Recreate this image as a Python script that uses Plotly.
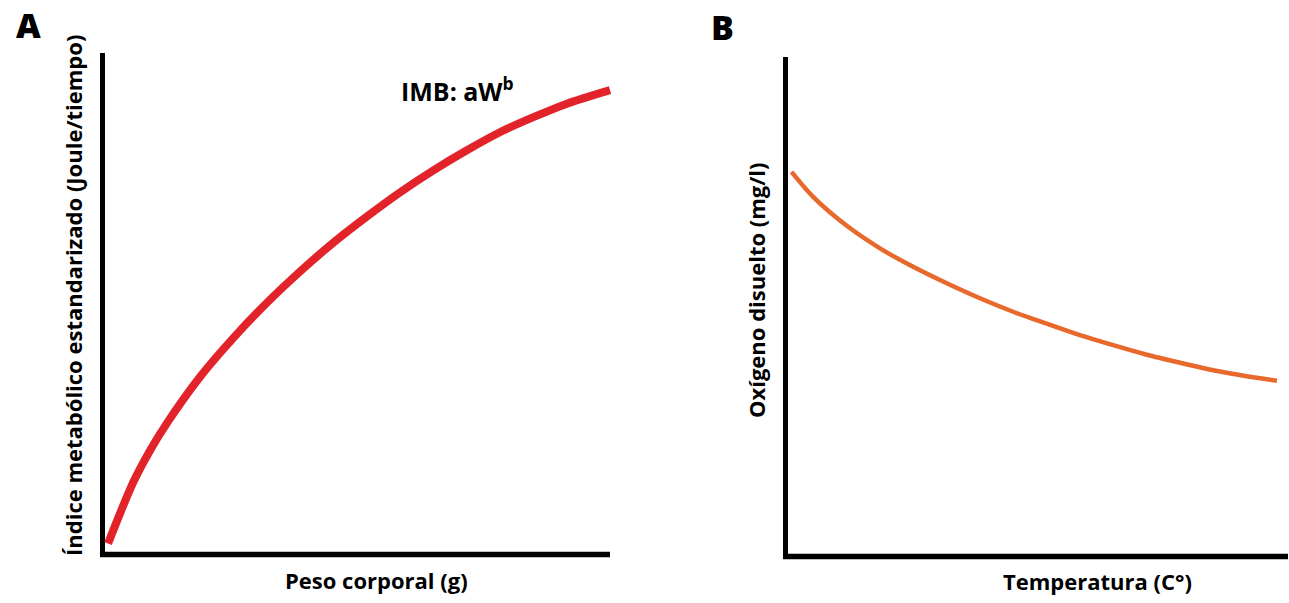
import plotly.graph_objects as go

# ---- Data (relative units 0-100) ----
peso_corporal = [1.1, 3.5, 6.1, 9.4, 12.7, 19.2, 25.8, 32.4, 38.9, 45.5, 52.1, 58.6,
                 65.2, 71.8, 78.3, 84.9, 91.5, 100.0]
indice_metabolico = [2.2, 8.3, 14.5, 20.8, 26.2, 35.4, 43.2, 50.2, 56.4, 62.2, 67.4, 72.2,
                     76.6, 80.6, 84.2, 87.2, 89.9, 92.6]

temperatura = [1.2, 5.5, 12.2, 18.8, 25.4, 32.1, 38.7, 45.3, 52.0, 58.6,
               65.2, 71.9, 78.5, 85.1, 91.8, 97.8]
oxigeno = [77.0, 72.0, 66.2, 61.7, 58.0, 54.7, 51.7, 49.0, 46.6, 44.3,
           42.3, 40.4, 38.8, 37.3, 36.1, 35.2]

# body margin is removed by post_script, so the figure fills the window
OX, OY = 0, 0
FW, FH = 1289, 603
FONT = "Open Sans"

def px2paper_x(px):
    return (px - OX) / FW

def px2paper_y(py):
    return 1 - (py - OY) / FH

fig = go.Figure()

fig.add_trace(go.Scatter(x=peso_corporal, y=indice_metabolico, mode="lines",
                         line=dict(color="#e2232a", width=8, shape="spline", smoothing=0.8),
                         xaxis="x", yaxis="y", showlegend=False, hoverinfo="skip"))
fig.add_trace(go.Scatter(x=temperatura, y=oxigeno, mode="lines",
                         line=dict(color="#e8692c", width=4.5, shape="spline", smoothing=0.8),
                         xaxis="x2", yaxis="y2", showlegend=False, hoverinfo="skip"))

# page-pixel geometry of each panel: x of y-axis, x-end, y of x-axis, y-top
def axis_setup(px0, px1, py0, py1, dom_x, dom_y):
    sx = (px1 - px0) / 100.0
    sy = (py0 - py1) / 100.0
    xr = [(dom_x[0] - px0) / sx, (dom_x[1] - px0) / sx]
    yr = [(py0 - dom_y[1]) / sy, (py0 - dom_y[0]) / sy]
    xd = [px2paper_x(dom_x[0]), px2paper_x(dom_x[1])]
    yd = [px2paper_y(dom_y[1]), px2paper_y(dom_y[0])]
    return xr, yr, xd, yd

xrA, yrA, xdA, ydA = axis_setup(102.5, 610, 554.5, 53, (90, 630), (30, 575))
xrB, yrB, xdB, ydB = axis_setup(785.5, 1288, 556.5, 57, (770, 1289), (30, 575))

hidden = dict(showgrid=False, zeroline=False, showticklabels=False, ticks="",
              showline=False, fixedrange=True)
fig.update_layout(
    width=FW, height=FH, margin=dict(l=0, r=0, t=0, b=0),
    paper_bgcolor="white", plot_bgcolor="rgba(0,0,0,0)",
    xaxis=dict(domain=xdA, range=xrA, anchor="y", **hidden),
    yaxis=dict(domain=ydA, range=yrA, anchor="x", **hidden),
    xaxis2=dict(domain=xdB, range=xrB, anchor="y2", **hidden),
    yaxis2=dict(domain=ydB, range=yrB, anchor="x2", **hidden),
)

# axis lines
shapes = []
for xr_, yr_ in (("x", "y"), ("x2", "y2")):
    shapes.append(dict(type="line", xref=xr_, yref=yr_, x0=-0.5, x1=100, y0=0, y1=0,
                       line=dict(color="black", width=5.5), layer="below"))
    shapes.append(dict(type="line", xref=xr_, yref=yr_, x0=0, x1=0, y0=-0.5, y1=100,
                       line=dict(color="black", width=5), layer="below"))
fig.update_layout(shapes=shapes)

def ann(text, px, py, size, angle=0, weight="bold"):
    return dict(text=text, x=px2paper_x(px), y=px2paper_y(py), xref="paper", yref="paper",
                showarrow=False, textangle=angle, xanchor="center", yanchor="middle",
                font=dict(family=FONT, size=size, color="black", weight=weight))

fig.update_layout(annotations=[
    ann("A", 28, 25, 34, weight=800),
    ann("B", 722, 27, 34, weight=800),
    ann("IMB: aW<sup>b</sup>", 457, 89, 25),
    ann("Peso corporal (g)", 377, 580, 22),
    ann("Temperatura (C°)", 1097, 581, 22),
    ann("Índice metabólico estandarizado (Joule/tiempo)", 73, 296, 22, -90),
    ann("Oxígeno disuelto (mg/l)", 756, 290, 22, -90),
])

fig.write_html("out.html",
               config={"displayModeBar": False, "staticPlot": True},
               post_script="document.body.style.margin='0';document.body.style.overflow='hidden';")
